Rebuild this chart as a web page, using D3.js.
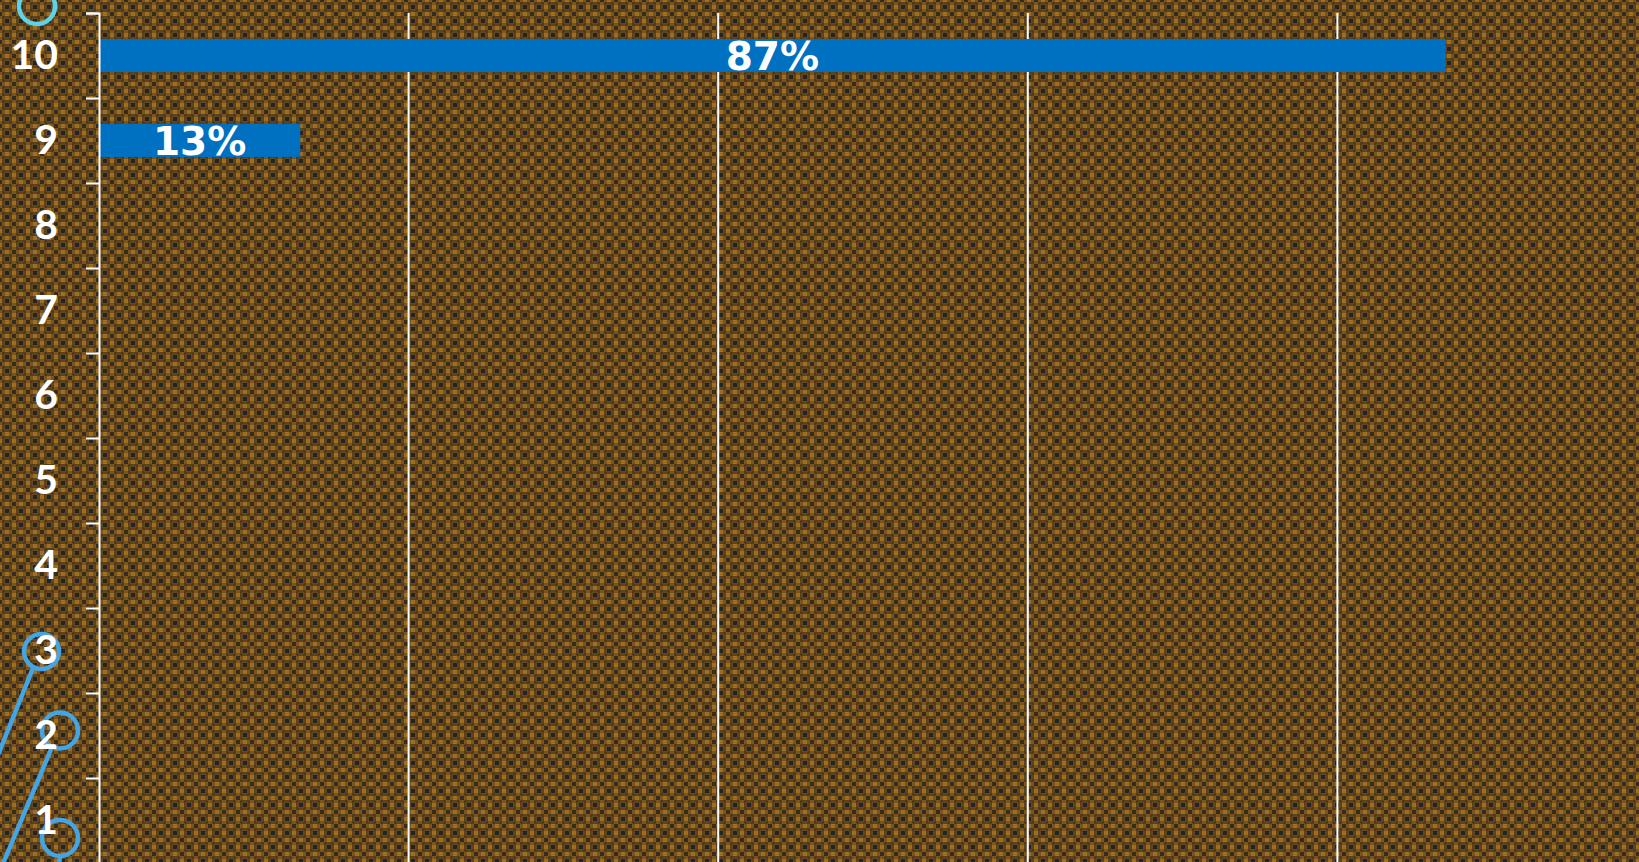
<!DOCTYPE html>
<html>
<head>
<meta charset="utf-8">
<script src="https://cdn.jsdelivr.net/npm/d3@7"></script>
<style>
    html, body { margin: 0; padding: 0; overflow: hidden; background: #6e4a1a; }
    svg { display: block; }
</style>
</head>
<body>
<div id="chart"></div>
<script>
(function () {
    'use strict';

    // chart data
    var categories = ["1", "2", "3", "4", "5", "6", "7", "8", "9", "10"];
    var shares = [0, 0, 0, 0, 0, 0, 0, 0, 0.13, 0.87];
    var gridTicks = [0.2, 0.4, 0.6, 0.8];

    var width = 1639, height = 862;
    var axisFont = "'Lato', 'DejaVu Sans', sans-serif";
    var valueFont = "'DejaVu Sans', sans-serif";

    var svg = d3.select("#chart")
        .append("svg")
        .attr("width", width)
        .attr("height", height);

    // woven brown background texture
    var defs = svg.append("defs");
    var pat = defs.append("pattern")
        .attr("id", "weave")
        .attr("patternUnits", "userSpaceOnUse")
        .attr("width", 14)
        .attr("height", 14);
    pat.append("rect").attr("width", 14).attr("height", 14).attr("fill", "#7c5419");
    pat.append("rect").attr("x", 0).attr("y", 5).attr("width", 14).attr("height", 4).attr("fill", "#9e6e22");
    pat.append("rect").attr("x", 5).attr("y", 0).attr("width", 4).attr("height", 14).attr("fill", "#9e6e22");
    pat.append("rect").attr("x", 3).attr("y", 3).attr("width", 8).attr("height", 8)
        .attr("fill", "none").attr("stroke", "#3e301f").attr("stroke-width", 1.4);
    pat.append("rect").attr("x", 4.5).attr("y", 4.5).attr("width", 5).attr("height", 5).attr("fill", "#26221e");
    [[0, 0], [14, 0], [0, 14], [14, 14]].forEach(function (p) {
        pat.append("rect")
            .attr("x", p[0] - 2).attr("y", p[1] - 2)
            .attr("width", 4).attr("height", 4)
            .attr("fill", "#342b22");
    });

    svg.append("rect")
        .attr("width", width)
        .attr("height", height)
        .attr("fill", "url(#weave)");

    // scales: the plot runs past the bottom and right edge of the slide
    var x = d3.scaleLinear()
        .domain([0, 1])
        .range([99, 1647]);

    var y = d3.scaleBand()
        .domain(categories.slice().reverse())
        .range([13, 863])
        .paddingInner(0.612)
        .paddingOuter(0.306);

    var yEdges = d3.scaleLinear()
        .domain([0, categories.length])
        .range([863, 13]);

    // vertical grid lines
    svg.selectAll("line.grid")
        .data(gridTicks)
        .enter()
        .append("line")
        .attr("class", "grid")
        .attr("x1", function (d) { return x(d); })
        .attr("x2", function (d) { return x(d); })
        .attr("y1", 13)
        .attr("y2", height)
        .attr("stroke", "#ffffff")
        .attr("stroke-width", 2);

    // bars
    var data = categories.map(function (c, i) {
        return {cat: c, value: shares[i]};
    });
    var shown = data.filter(function (d) { return d.value > 0; });

    svg.selectAll("rect.bar")
        .data(shown)
        .enter()
        .append("rect")
        .attr("class", "bar")
        .attr("x", x(0))
        .attr("y", function (d) { return y(d.cat); })
        .attr("width", function (d) { return x(d.value) - x(0); })
        .attr("height", y.bandwidth())
        .attr("fill", "#0070c0");

    // bar labels
    svg.selectAll("text.value")
        .data(shown)
        .enter()
        .append("text")
        .attr("class", "value")
        .attr("x", function (d) { return (x(0) + x(d.value)) / 2; })
        .attr("y", function (d) { return y(d.cat) + y.bandwidth() / 2; })
        .attr("dy", "0.36em")
        .attr("text-anchor", "middle")
        .attr("fill", "#ffffff")
        .style("font-family", valueFont)
        .style("font-weight", 700)
        .style("font-size", "39px")
        .text(function (d) { return Math.round(d.value * 100) + "%"; });

    // category axis (labels only)
    var yAxis = svg.append("g")
        .attr("transform", "translate(" + x(0) + ",0)")
        .call(d3.axisLeft(y).tickSize(0).tickPadding(41));
    yAxis.select(".domain").remove();
    yAxis.selectAll("text")
        .attr("fill", "#ffffff")
        .style("font-family", axisFont)
        .style("font-weight", 700)
        .style("font-size", "41px");

    // axis line with ticks on the category boundaries
    var edgeAxis = svg.append("g")
        .attr("transform", "translate(" + x(0) + ",0)")
        .call(d3.axisLeft(yEdges).ticks(categories.length).tickSize(13).tickSizeOuter(13).tickFormat(""));
    edgeAxis.selectAll("line, path")
        .attr("stroke", "#ffffff")
        .attr("stroke-width", 2);

    // theme decoration: circles and connectors on the left edge
    var deco = svg.append("g").attr("fill", "none").attr("stroke-width", 4.5);
    deco.append("circle").attr("cx", 37).attr("cy", 6).attr("r", 18).attr("stroke", "#5fd3e6");
    deco.append("circle").attr("cx", 41.5).attr("cy", 651.5).attr("r", 17.5).attr("stroke", "#45a5e3");
    deco.append("line").attr("x1", 33).attr("y1", 668).attr("x2", -4).attr("y2", 760).attr("stroke", "#45a5e3");
    deco.append("circle").attr("cx", 60).attr("cy", 730.5).attr("r", 18).attr("stroke", "#45a5e3");
    deco.append("line").attr("x1", 52).attr("y1", 747).attr("x2", 2).attr("y2", 866).attr("stroke", "#45a5e3");
    deco.append("circle").attr("cx", 60).attr("cy", 838).attr("r", 18).attr("stroke", "#45a5e3");
    deco.append("line").attr("x1", 60).attr("y1", 856).attr("x2", 59).attr("y2", 866).attr("stroke", "#45a5e3");

    // labels sit above the decoration in the original
    yAxis.raise();
}());
</script>
</body>
</html>
